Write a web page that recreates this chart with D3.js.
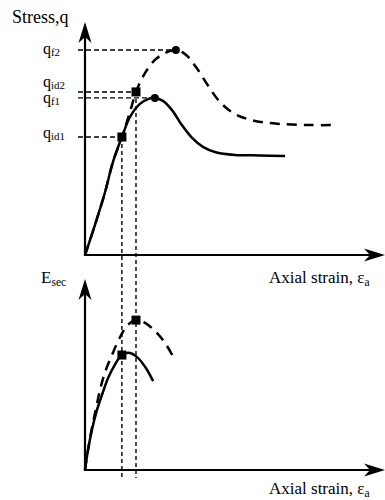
<!DOCTYPE html>
<html>
<head>
<meta charset="utf-8">
<script src="https://cdn.jsdelivr.net/npm/d3@7/dist/d3.min.js"></script>
<style>
  body { margin: 0; background: #fff; }
  svg { display: block; }
  text { font-family: "Liberation Serif", "Times New Roman", serif; fill: #000; }
</style>
</head>
<body>
<svg id="chart" width="385" height="500"></svg>
<script>
// strain / stress values (arbitrary units)
var stressSolid = [[0,0],[0.33,1.3],[0.67,2.74],[0.93,4.04],[1.23,5.13],[1.5,6.0],[1.83,6.57],[2.1,6.78],[2.33,6.83],[2.6,6.7],[2.9,6.3],[3.23,5.65],[3.57,5.09],[3.93,4.7],[4.33,4.48],[5.0,4.35],[5.83,4.33],[6.67,4.3]];
var stressDashed = [[0,0],[0.33,1.3],[0.67,2.74],[0.93,4.04],[1.23,5.13],[1.5,6.22],[1.7,7.09],[2.0,7.91],[2.33,8.48],[2.67,8.78],[3.03,8.91],[3.37,8.7],[3.7,8.17],[4.07,7.43],[4.5,6.65],[5.0,6.13],[5.67,5.83],[6.5,5.7],[7.5,5.65],[8.4,5.65]];
var esecSolid = [[0,0],[0.1,1.05],[0.23,2.11],[0.4,3.16],[0.6,4.11],[0.77,4.84],[0.97,5.47],[1.23,6.05],[1.5,6.16],[1.77,5.89],[2.03,5.37],[2.27,4.68]];
var esecDashed = [[0,0],[0.1,1.05],[0.23,2.21],[0.37,3.26],[0.5,4.21],[0.67,5.16],[0.9,6.05],[1.17,7.0],[1.43,7.63],[1.7,7.89],[2.0,7.74],[2.33,7.32],[2.67,6.68],[3.0,5.79]];

var idPoints = [[1.23,5.13],[1.7,7.09]];      // q_id1, q_id2
var failPoints = [[2.33,6.83],[3.03,8.91]];   // q_f1, q_f2
var esecIdPoints = [[1.23,6.05],[1.7,7.89]];

var levelLabels = [
  {main: "q", sub: "f2", q: 8.91},
  {main: "q", sub: "id2", q: 7.09},
  {main: "q", sub: "f1", q: 6.83},
  {main: "q", sub: "id1", q: 5.13}
];

var svg = d3.select("#chart");

var x = d3.scaleLinear().domain([0, 10]).range([85, 385]);
var yTop = d3.scaleLinear().domain([0, 10]).range([255, 25]);
var yBot = d3.scaleLinear().domain([0, 10]).range([470, 280]);

function arrowUp(cx, tip) {
  return "M" + cx + "," + tip + " L" + (cx + 6.5) + "," + (tip + 21) +
    " L" + cx + "," + (tip + 15) + " L" + (cx - 6.5) + "," + (tip + 21) + "Z";
}
function arrowRight(tip, cy) {
  return "M" + tip + "," + cy + " L" + (tip - 21) + "," + (cy - 6.5) +
    " L" + (tip - 15) + "," + cy + " L" + (tip - 21) + "," + (cy + 6.5) + "Z";
}

function drawAxes(y, topTip) {
  var ox = x(0), oy = y(0);
  svg.append("path")
    .attr("d", "M" + ox + "," + (topTip + 12) + " L" + ox + "," + oy + " L" + (x.range()[1] - 12) + "," + oy)
    .attr("fill", "none").attr("stroke", "#000").attr("stroke-width", 2.2);
  svg.append("path").attr("d", arrowUp(ox, topTip)).attr("fill", "#000");
  svg.append("path").attr("d", arrowRight(x.range()[1], oy)).attr("fill", "#000");
}

drawAxes(yTop, 22);
drawAxes(yBot, 279);

// guide lines
levelLabels.forEach(function (d, i) {
  var pt = i == 0 ? failPoints[1] : i == 1 ? idPoints[1] : i == 2 ? failPoints[0] : idPoints[0];
  svg.append("line")
    .attr("x1", 78).attr("x2", x(pt[0]))
    .attr("y1", yTop(d.q)).attr("y2", yTop(d.q))
    .attr("stroke", "#000").attr("stroke-width", 1.4)
    .attr("stroke-dasharray", "5,3");
});
idPoints.forEach(function (p) {
  svg.append("line")
    .attr("x1", x(p[0])).attr("x2", x(p[0]))
    .attr("y1", yTop(p[1])).attr("y2", 478)
    .attr("stroke", "#000").attr("stroke-width", 1.4)
    .attr("stroke-dasharray", "4,3");
});

var lineTop = d3.line().x(function (d) { return x(d[0]); }).y(function (d) { return yTop(d[1]); }).curve(d3.curveCatmullRom);
var lineBot = d3.line().x(function (d) { return x(d[0]); }).y(function (d) { return yBot(d[1]); }).curve(d3.curveCatmullRom);

svg.append("path").attr("d", lineTop(stressSolid))
  .attr("fill", "none").attr("stroke", "#000").attr("stroke-width", 2.5);
svg.append("path").attr("d", lineTop(stressDashed))
  .attr("fill", "none").attr("stroke", "#000").attr("stroke-width", 2.5)
  .attr("stroke-dasharray", "10,7");
svg.append("path").attr("d", lineBot(esecSolid))
  .attr("fill", "none").attr("stroke", "#000").attr("stroke-width", 2.5);
svg.append("path").attr("d", lineBot(esecDashed))
  .attr("fill", "none").attr("stroke", "#000").attr("stroke-width", 2.5)
  .attr("stroke-dasharray", "10,7");

// markers
svg.selectAll(".sq").data(idPoints).enter().append("rect")
  .attr("x", function (d) { return x(d[0]) - 4.5; })
  .attr("y", function (d) { return yTop(d[1]) - 4.5; })
  .attr("width", 9).attr("height", 9).attr("fill", "#000");
svg.selectAll(".sqb").data(esecIdPoints).enter().append("rect")
  .attr("x", function (d) { return x(d[0]) - 4.5; })
  .attr("y", function (d) { return yBot(d[1]) - 4.5; })
  .attr("width", 9).attr("height", 9).attr("fill", "#000");
svg.selectAll(".dot").data(failPoints).enter().append("circle")
  .attr("cx", function (d) { return x(d[0]); })
  .attr("cy", function (d) { return yTop(d[1]); })
  .attr("r", 4).attr("fill", "#000");

// labels
function subLabel(tx, ty, main, sub, size, drop) {
  var t = svg.append("text").attr("x", tx).attr("y", ty).attr("font-size", size);
  t.append("tspan").text(main);
  t.append("tspan").attr("font-size", size * 0.68).attr("dy", drop).text(sub);
  return t;
}

svg.append("text").attr("x", 12).attr("y", 23).attr("font-size", 18).text("Stress,q");
var labelY = [54, 87, 103, 138];
levelLabels.forEach(function (d, i) {
  subLabel(43, labelY[i], d.main, d.sub, 16, 2);
});
subLabel(41, 283, "E", "sec", 17, 3);
subLabel(269, 283, "Axial strain, ε", "a", 17, 3);
subLabel(269, 494, "Axial strain, ε", "a", 17, 3);
</script>
</body>
</html>
